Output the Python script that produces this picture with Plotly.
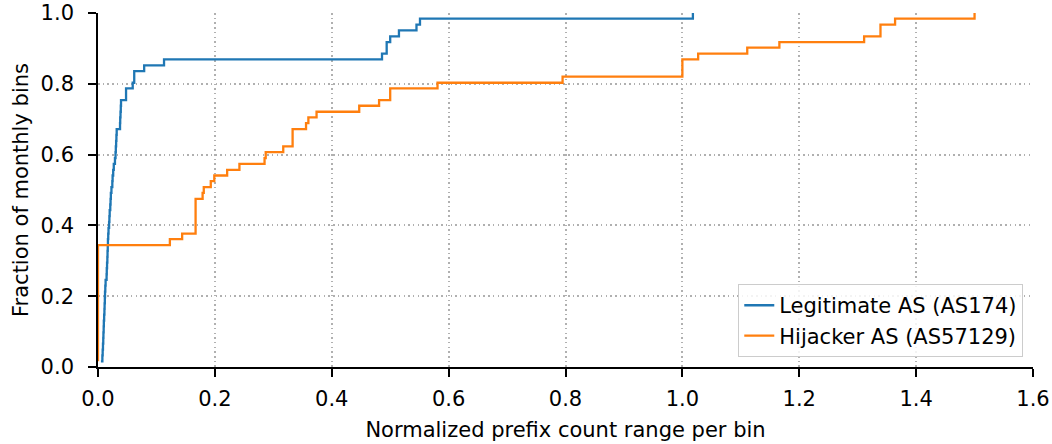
import plotly.graph_objects as go

# Empirical CDF steps: normalized prefix-count range per monthly bin
# and the cumulative fraction of bins reached at each value.
legit_x = [0.005, 0.0075, 0.008, 0.0085, 0.009, 0.0093, 0.0097, 0.010, 0.0105, 0.011,
           0.0113, 0.0117, 0.012, 0.0125, 0.013, 0.0147, 0.015, 0.0155, 0.016, 0.0163,
           0.0167, 0.017, 0.0175, 0.018, 0.019, 0.0195, 0.020, 0.021, 0.0215, 0.022,
           0.023, 0.0245, 0.025, 0.026, 0.027, 0.029, 0.030, 0.0305, 0.031, 0.0315,
           0.032, 0.0377, 0.038, 0.0385, 0.039, 0.0394, 0.048, 0.0594, 0.062, 0.079,
           0.113, 0.486, 0.494, 0.500, 0.515, 0.545, 0.551, 1.018]
legit_y = [0.016, 0.033, 0.049, 0.066, 0.082, 0.098, 0.115, 0.131, 0.148, 0.164,
           0.180, 0.197, 0.213, 0.230, 0.246, 0.262, 0.279, 0.295, 0.311, 0.328,
           0.344, 0.361, 0.377, 0.393, 0.410, 0.426, 0.443, 0.459, 0.475, 0.492,
           0.508, 0.525, 0.541, 0.557, 0.574, 0.590, 0.607, 0.623, 0.639, 0.656,
           0.672, 0.689, 0.705, 0.721, 0.738, 0.754, 0.787, 0.803, 0.836, 0.852,
           0.869, 0.885, 0.918, 0.934, 0.951, 0.967, 0.984, 1.000]

hijack_x = [0.0, 0.0, 0.123, 0.144, 0.167, 0.179, 0.181, 0.193, 0.199, 0.221,
            0.242, 0.285, 0.287, 0.317, 0.333, 0.356, 0.360, 0.374, 0.447, 0.481,
            0.500, 0.581, 0.795, 1.000, 1.027, 1.111, 1.166, 1.311, 1.339, 1.364,
            1.500]
hijack_y = [0.016, 0.344, 0.361, 0.377, 0.475, 0.492, 0.508, 0.525, 0.541, 0.557,
            0.574, 0.590, 0.607, 0.623, 0.672, 0.689, 0.705, 0.721, 0.738, 0.754,
            0.787, 0.803, 0.820, 0.869, 0.885, 0.902, 0.918, 0.934, 0.967, 0.984,
            1.000]

x_ticks = [0.0, 0.2, 0.4, 0.6, 0.8, 1.0, 1.2, 1.4, 1.6]
y_ticks = [0.0, 0.2, 0.4, 0.6, 0.8, 1.0]

FONT = "DejaVu Sans"
FS = 21

fig = go.Figure()
fig.add_trace(go.Scatter(
    x=legit_x, y=legit_y, mode="lines", line_shape="hv",
    line=dict(color="#1f77b4", width=2.3), name="Legitimate AS (AS174)",
))
fig.add_trace(go.Scatter(
    x=hijack_x, y=hijack_y, mode="lines", line_shape="hv",
    line=dict(color="#ff7f0e", width=2.3), name="Hijacker AS (AS57129)",
))

axis_common = dict(
    showline=True, linecolor="black", linewidth=1.6,
    ticks="outside", ticklen=8, tickwidth=1.6, tickcolor="black",
    showgrid=True, gridcolor="#b0b0b0", gridwidth=1.5, griddash="1.5px,3.2px",
    zeroline=False, automargin=False,
    tickfont=dict(family=FONT, size=FS, color="black"),
)

fig.update_xaxes(
    range=[0, 1.6], tickvals=x_ticks, ticktext=[f"{v:.1f}" for v in x_ticks],
    ticklabelstandoff=4,
    title=dict(text="Normalized prefix count range per bin",
               font=dict(family=FONT, size=FS, color="black"), standoff=12),
    **axis_common,
)
fig.update_yaxes(
    range=[0, 1.0], tickvals=y_ticks, ticktext=[f"{v:.1f}" for v in y_ticks],
    ticklabelstandoff=10,
    title=dict(text="Fraction of monthly bins",
               font=dict(family=FONT, size=FS, color="black"), standoff=6),
    **axis_common,
)

fig.update_layout(
    width=1052, height=444,
    margin=dict(l=98, r=19, t=13, b=77),
    plot_bgcolor="white", paper_bgcolor="white",
    font=dict(family=FONT, size=FS, color="black"),
    legend=dict(
        x=0.9896, y=0.028, xanchor="right", yanchor="bottom",
        bgcolor="rgba(255,255,255,0.85)", bordercolor="#cccccc", borderwidth=1,
        font=dict(family=FONT, size=FS, color="black"),
    ),
    showlegend=True,
)

fig.write_html("out.html")
